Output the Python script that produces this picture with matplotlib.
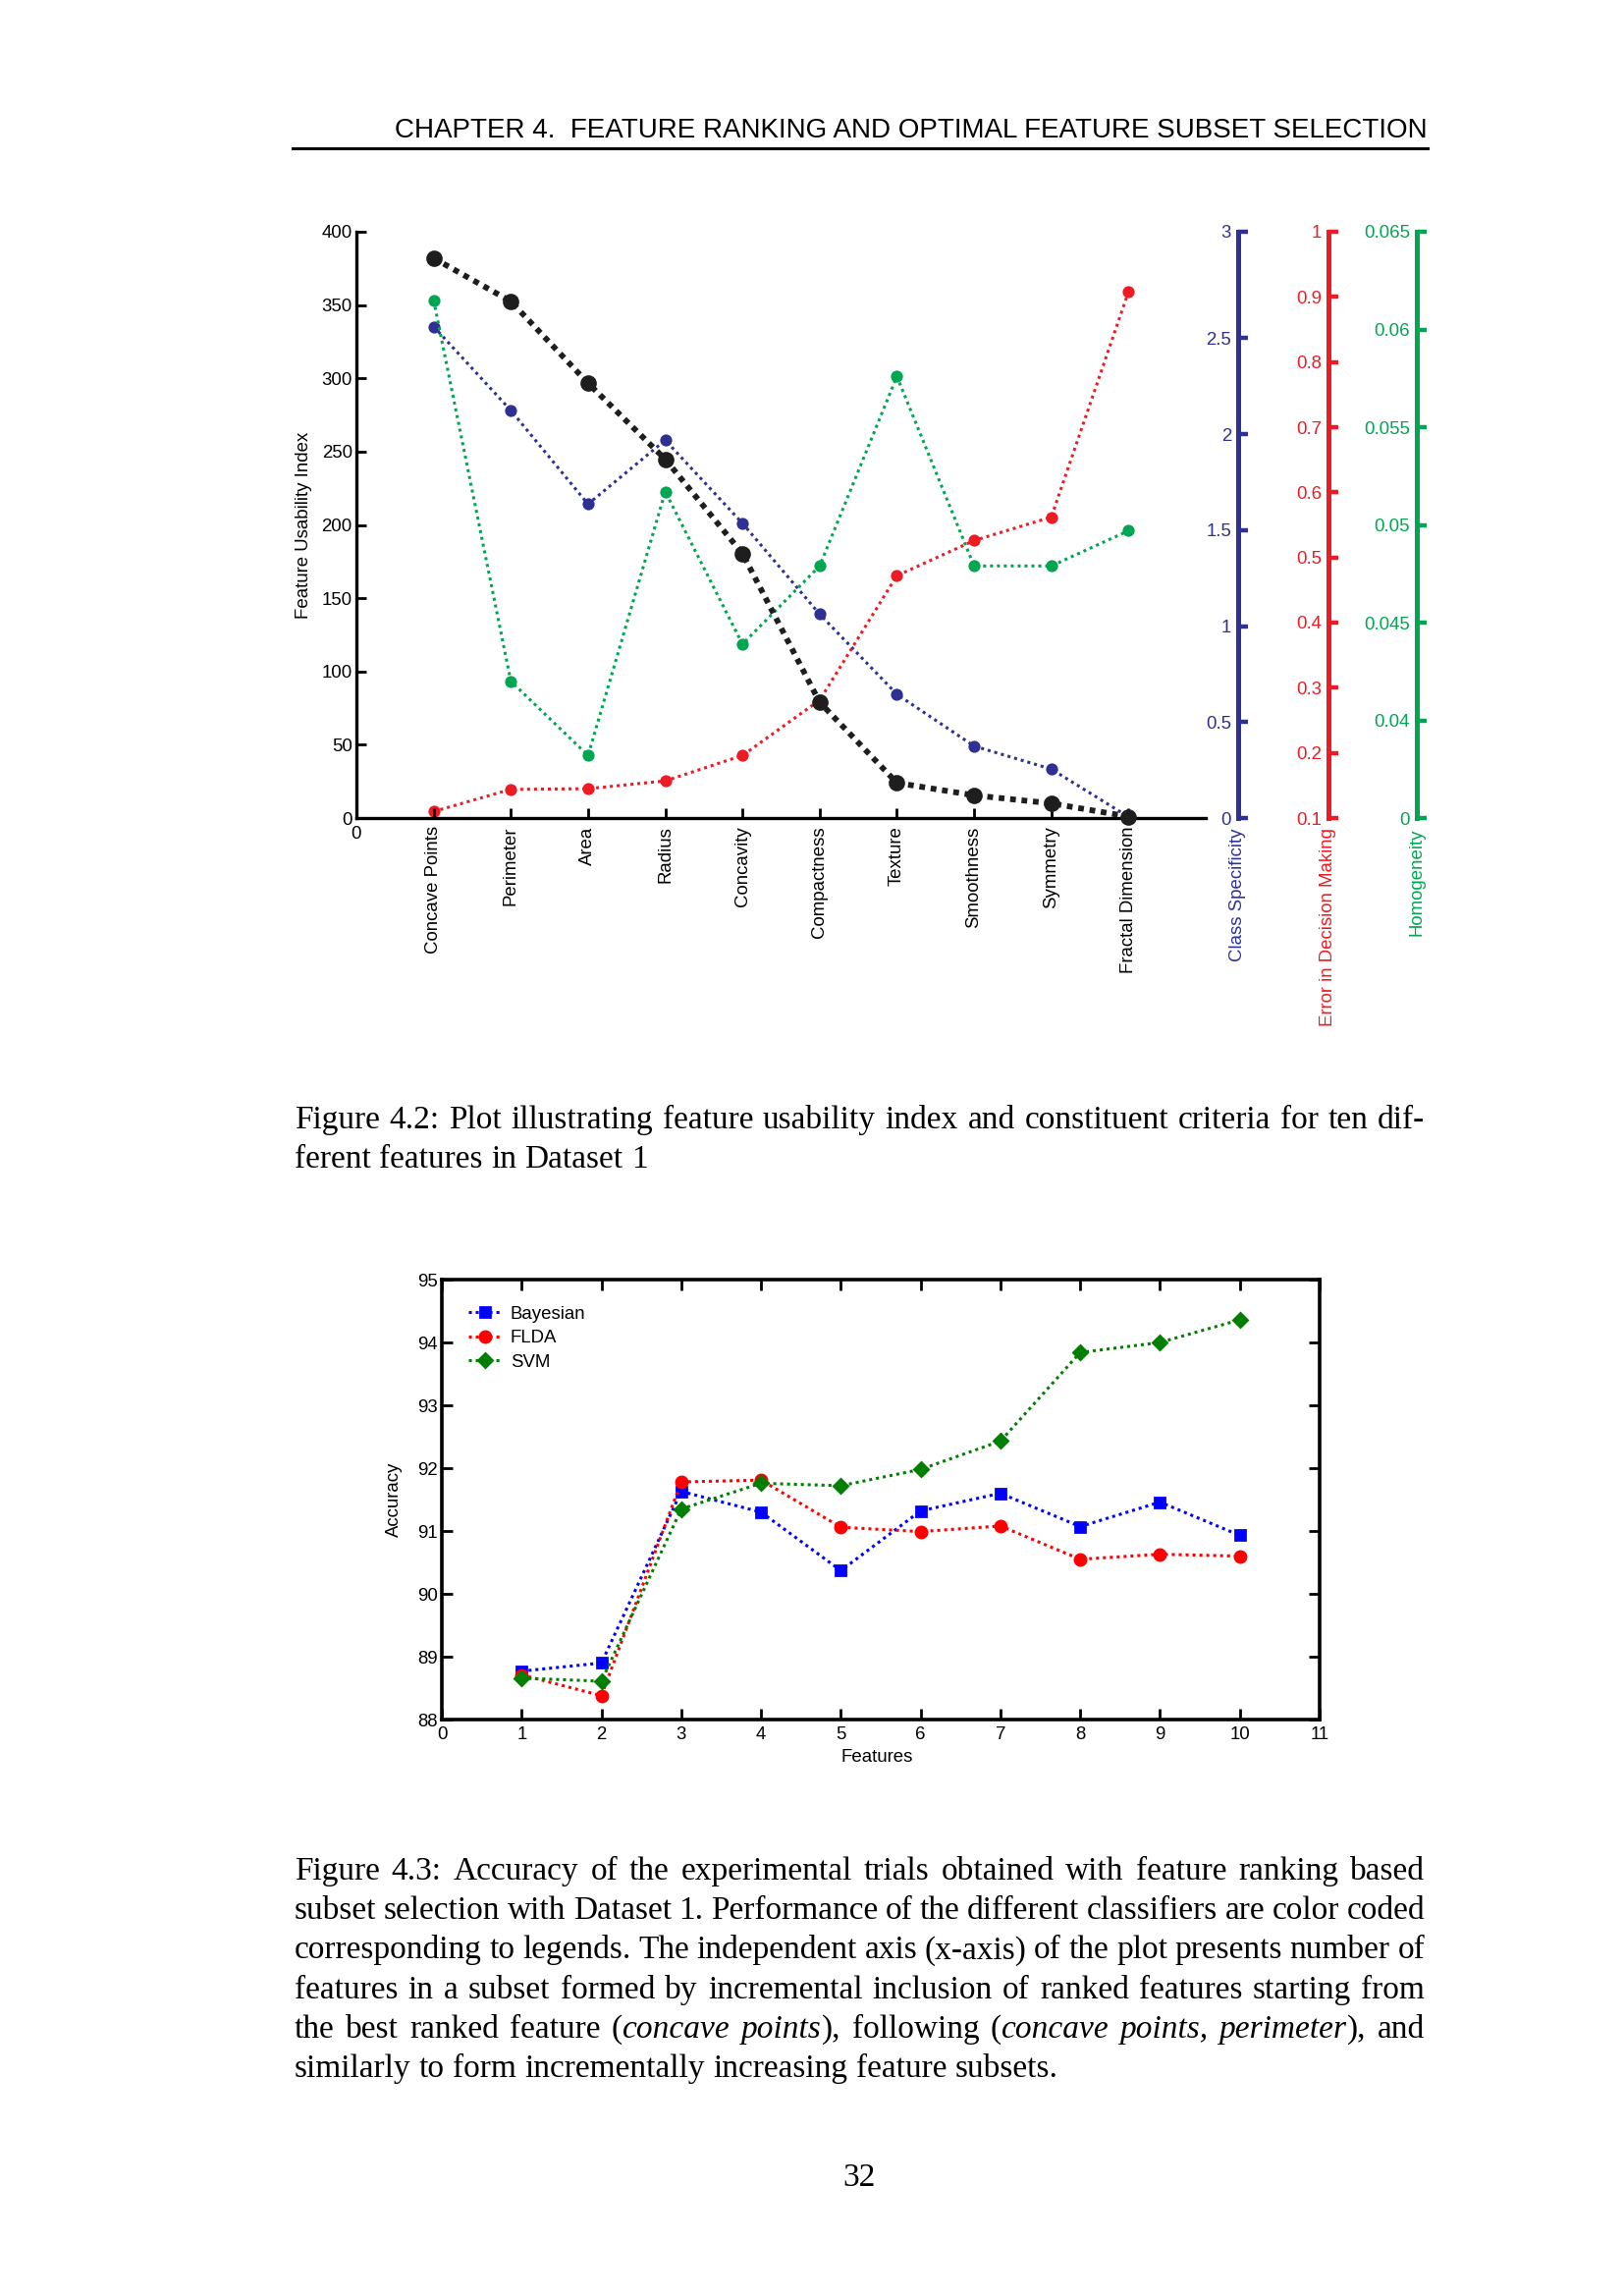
import matplotlib
matplotlib.use("Agg")
import matplotlib.pyplot as plt
from matplotlib.lines import Line2D

plt.rcParams['font.family'] = ['Liberation Sans', 'DejaVu Sans']

# ---------------- data: Figure 4.2 ----------------
features = ["Concave Points", "Perimeter", "Area", "Radius", "Concavity",
            "Compactness", "Texture", "Smoothness", "Symmetry", "Fractal Dimension"]
feature_pos = [1, 2, 3, 4, 5, 6, 7, 8, 9, 10]
usability_index = [382, 352.5, 296.7, 244.8, 180.4, 79, 24, 15.5, 10, 1]
class_specificity = [2.561, 2.124, 1.636, 1.969, 1.536, 1.062, 0.645, 0.375, 0.255, 0.006]
error_decision = [0.110, 0.144, 0.145, 0.157, 0.196, 0.281, 0.472, 0.526, 0.562, 0.908]
homogeneity = [0.0615, 0.0420, 0.0382, 0.0517, 0.0439, 0.0479, 0.0576, 0.0479, 0.0479, 0.0497]

fui_ticks = [0, 50, 100, 150, 200, 250, 300, 350, 400]
cs_ticks = [0, 0.5, 1, 1.5, 2, 2.5, 3.055]
cs_labels = ["0", "0.5", "1", "1.5", "2", "2.5", "3"]
err_ticks = [0.1, 0.2, 0.3, 0.4, 0.5, 0.6, 0.7, 0.8, 0.9, 1.0]
err_labels = ["0.1", "0.2", "0.3", "0.4", "0.5", "0.6", "0.7", "0.8", "0.9", "1"]
hom_ticks = [0.035, 0.04, 0.045, 0.05, 0.055, 0.06, 0.065]
hom_labels = ["0", "0.04", "0.045", "0.05", "0.055", "0.06", "0.065"]

# ---------------- data: Figure 4.3 ----------------
n_features = [1, 2, 3, 4, 5, 6, 7, 8, 9, 10]
acc_bayesian = [88.77, 88.90, 91.63, 91.30, 90.37, 91.32, 91.60, 91.07, 91.46, 90.93]
acc_flda = [88.71, 88.38, 91.78, 91.81, 91.06, 90.99, 91.08, 90.55, 90.63, 90.60]
acc_svm = [88.66, 88.61, 91.35, 91.76, 91.72, 91.98, 92.43, 93.84, 94.00, 94.36]
acc_xticks = list(range(0, 12))
acc_yticks = list(range(88, 96))

W, H = 1654, 2338
fig = plt.figure(figsize=(W / 200, H / 200), dpi=200)
FS = 6.7

NAVY = "#2e3192"
RED = "#ed1c24"
GREEN = "#00a651"
BLACK = "#1e1e1e"

# ================= Figure 4.2 =================
rect1 = [363 / W, 1 - 833 / H, 865 / W, 597 / H]

criteria = [
    ("Class Specificity", class_specificity, NAVY, (0, 3.055), cs_ticks, cs_labels, 1.038),
    ("Error in Decision Making", error_decision, RED, (0.1, 1.0), err_ticks, err_labels, 1.1445),
    ("Homogeneity", homogeneity, GREEN, (0.035, 0.065), hom_ticks, hom_labels, 1.2486),
]
for name, vals, col, lim, ticks, labels, pos in criteria:
    axc = fig.add_axes(rect1)
    axc.patch.set_visible(False)
    for s in ["top", "right", "bottom"]:
        axc.spines[s].set_visible(False)
    axc.spines["left"].set_position(("axes", pos))
    axc.spines["left"].set_color(col)
    axc.spines["left"].set_linewidth(1.8)
    axc.set_xlim(0, 11)
    axc.set_ylim(*lim)
    axc.set_xticks([])
    axc.set_yticks(ticks)
    axc.set_yticklabels(labels)
    axc.tick_params(axis="y", direction="in", length=3.5, width=1.6, color=col,
                    labelcolor=col, labelsize=FS, pad=2.5)
    axc.plot(feature_pos, vals, ls=(0, (1, 1.3)), lw=1.1, color=col,
             marker="o", ms=3.4, clip_on=False)
    axc.text(pos, -0.017, name, rotation=90, ha="center", va="top",
             transform=axc.transAxes, color=col, fontsize=FS)

ax = fig.add_axes(rect1)
ax.patch.set_visible(False)
ax.spines["top"].set_visible(False)
ax.spines["right"].set_visible(False)
for s in ["left", "bottom"]:
    ax.spines[s].set_linewidth(1.2)
ax.plot(feature_pos, usability_index, ls=(0, (1, 1)), lw=2.1, color=BLACK,
        marker="o", ms=5, clip_on=False, zorder=5)
ax.set_xlim(0, 11)
ax.set_ylim(0, 400)
ax.set_yticks(fui_ticks)
ax.set_xticks([0] + feature_pos)
ax.set_xticklabels(["0"] + features)
for lbl in ax.get_xticklabels()[1:]:
    lbl.set_rotation(90)
ax.tick_params(axis="both", direction="in", length=3.5, width=1.0, labelsize=FS)
ax.tick_params(axis="y", pad=1.5)
ax.tick_params(axis="x", pad=3)
ax.set_ylabel("Feature Usability Index", fontsize=FS)
ax.yaxis.set_label_coords((318 - 363) / 865, 0.5)

# ================= Figure 4.3 =================
ax2 = fig.add_axes([450 / W, 1 - 1751 / H, 894 / W, 448 / H])
ax2.plot(n_features, acc_bayesian, ls=(0, (1, 1.3)), lw=1.1, color="#0000ff",
         marker="s", ms=3.3, label="Bayesian")
ax2.plot(n_features, acc_flda, ls=(0, (1, 1.3)), lw=1.1, color="#ff0000",
         marker="o", ms=4.0, label="FLDA")
ax2.plot(n_features, acc_svm, ls=(0, (1, 1.3)), lw=1.1, color="#007f00",
         marker="D", ms=3.6, label="SVM")
ax2.set_xlim(0, 11)
ax2.set_ylim(88, 95)
ax2.set_xticks(acc_xticks)
ax2.set_yticks(acc_yticks)
for s in ax2.spines.values():
    s.set_linewidth(1.3)
ax2.tick_params(direction="in", top=True, right=True, length=4, width=1.0,
                labelsize=FS)
ax2.tick_params(axis="y", pad=1.5)
ax2.tick_params(axis="x", pad=2.5)
ax2.set_xlabel("Features", fontsize=FS)
ax2.xaxis.set_label_coords(0.4955, -0.068)
ax2.set_ylabel("Accuracy", fontsize=FS)
ax2.yaxis.set_label_coords((410 - 450) / 894, 0.5)
ax2.legend(loc="upper left", bbox_to_anchor=(0.03, 0.94), frameon=False,
           fontsize=FS, handlelength=1.85, handletextpad=0.45, labelspacing=0.4,
           borderpad=0, borderaxespad=0)

# ================= page text =================
fig.text(1454 / W, 1 - 140 / H,
         "CHAPTER 4.  FEATURE RANKING AND OPTIMAL FEATURE SUBSET SELECTION",
         ha="right", va="baseline", fontsize=10.0, family=["Liberation Sans", "DejaVu Sans"])
fig.add_artist(Line2D([298 / W, 1454 / W], [1 - 151 / H, 1 - 151 / H],
                      transform=fig.transFigure, color="black", lw=1.1))

renderer = fig.canvas.get_renderer()
SERIF = ["Liberation Serif", "DejaVu Serif"]
CAP = 12
X0, X1 = 300, 1451


def place_line(words, y_px, justify=True):
    objs = []
    widths = []
    for word in words:
        parts = []
        wsum = 0
        for txt, st in word:
            t = fig.text(0, 1 - y_px / H, txt, fontsize=CAP, family=SERIF, style=st,
                         va="baseline", ha="left")
            w = t.get_window_extent(renderer).width
            parts.append((t, w))
            wsum += w
        objs.append(parts)
        widths.append(wsum)
    if justify and len(words) > 1:
        gap = (X1 - X0 - sum(widths)) / (len(words) - 1)
    else:
        gap = 0.25 * CAP * 200 / 72
    x = X0
    for parts, wsum in zip(objs, widths):
        xx = x
        for t, w in parts:
            t.set_x(xx / W)
            xx += w
        x += wsum + gap


def plain(s):
    return [[(w, "normal")] for w in s.split()]


place_line(plain("Figure 4.2: Plot illustrating feature usability index and constituent criteria for ten dif-"), 1149)
place_line(plain("ferent features in Dataset 1"), 1189, justify=False)

cap43 = [
    plain("Figure 4.3:  Accuracy of the experimental trials obtained with feature ranking based"),
    plain("subset selection with Dataset 1. Performance of the different classifiers are color coded"),
    plain("corresponding to legends. The independent axis (x-axis) of the plot presents number of"),
    plain("features in a subset formed by incremental inclusion of ranked features starting from"),
    plain("the best ranked feature") + [[("(", "normal"), ("concave", "italic")],
                                      [("points", "italic"), ("),", "normal")],
                                      [("following", "normal")],
                                      [("(", "normal"), ("concave", "italic")],
                                      [("points,", "italic")],
                                      [("perimeter", "italic"), ("),", "normal")],
                                      [("and", "normal")]],
]
y0 = 1914
for i, line in enumerate(cap43):
    place_line(line, y0 + i * 40.2)
place_line(plain("similarly to form incrementally increasing feature subsets."), y0 + 5 * 40.2,
           justify=False)

fig.text(875 / W, 1 - 2226 / H, "32", ha="center", va="baseline", fontsize=CAP, family=SERIF)

fig.savefig("out.png", dpi=200)
